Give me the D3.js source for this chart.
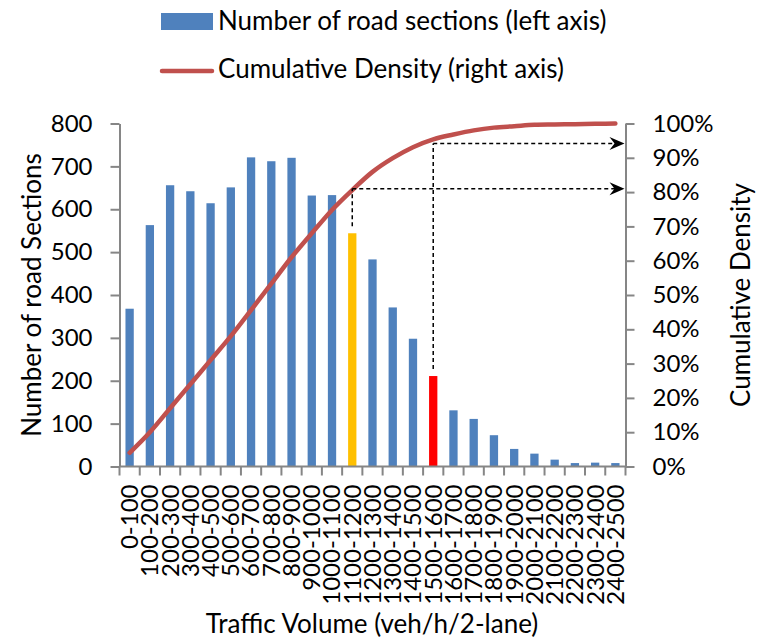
<!DOCTYPE html>
<html>
<head>
<meta charset="utf-8">
<script src="https://cdn.jsdelivr.net/npm/d3@7"></script>
<style>
  body { margin: 0; background: #fff; }
  text { font-family: Lato, "Open Sans", sans-serif; fill: #000; }
</style>
</head>
<body>
<script>
// data
var categories = ["0-100","100-200","200-300","300-400","400-500","500-600","600-700","700-800",
  "800-900","900-1000","1000-1100","1100-1200","1200-1300","1300-1400","1400-1500","1500-1600",
  "1600-1700","1700-1800","1800-1900","1900-2000","2000-2100","2100-2200","2200-2300","2300-2400","2400-2500"];
var sections = [368,563,656,642,614,651,721,712,720,632,633,544,483,371,298,211,131,111,73,41,30,16,8,9,8];
var cumulative = [0.04,0.10,0.17,0.24,0.31,0.38,0.456,0.533,0.61,0.68,0.748,0.806,0.859,0.899,0.931,0.954,
  0.968,0.98,0.988,0.992,0.996,0.997,0.998,0.999,1.0];
var barColors = {"1100-1200": "#FFC000", "1500-1600": "#FF0000"};
var markers = [{cat: "1100-1200", level: 0.81}, {cat: "1500-1600", level: 0.942}];
var leftTicks = [0,100,200,300,400,500,600,700,800];
var rightTicks = [0,0.1,0.2,0.3,0.4,0.5,0.6,0.7,0.8,0.9,1.0];

var width = 766, height = 641;
var plot = {left: 119.5, right: 625.5, top: 123.5, bottom: 466.5};
var tickFont = 24, titleFont = 26;

var svg = d3.select("body").append("svg")
    .attr("width", width)
    .attr("height", height);

var x = d3.scaleBand()
    .domain(categories)
    .range([plot.left, plot.right])
    .paddingInner(0.59)
    .paddingOuter(0.295);

var y = d3.scaleLinear().domain([0, 800]).range([plot.bottom, plot.top]);
var yR = d3.scaleLinear().domain([0, 1]).range([plot.bottom, plot.top]);

var axisColor = "#868686";

// bars
svg.append("g").selectAll("rect")
  .data(categories)
  .enter().append("rect")
    .attr("x", function(d) { return x(d); })
    .attr("width", x.bandwidth())
    .attr("y", function(d, i) { return y(sections[i]); })
    .attr("height", function(d, i) { return y(0) - y(sections[i]); })
    .attr("fill", function(d) { return barColors[d] || "#4F81BD"; });

// left axis
var gl = svg.append("g")
    .attr("transform", "translate(" + plot.left + ",0)")
    .call(d3.axisLeft(y).tickValues(leftTicks).tickSize(9).tickPadding(18).tickSizeOuter(0));
gl.select(".domain").attr("stroke", axisColor).attr("stroke-width", 2);
gl.selectAll(".tick line").attr("stroke", axisColor).attr("stroke-width", 2);
gl.selectAll("text").attr("font-size", tickFont).attr("font-family", "Lato").attr("fill", "#000");

// right axis
var gr = svg.append("g")
    .attr("transform", "translate(" + plot.right + ",0)")
    .call(d3.axisRight(yR).tickValues(rightTicks).tickFormat(d3.format(".0%")).tickSize(9).tickPadding(18).tickSizeOuter(0));
gr.select(".domain").attr("stroke", axisColor).attr("stroke-width", 2);
gr.selectAll(".tick line").attr("stroke", axisColor).attr("stroke-width", 2);
gr.selectAll("text").attr("font-size", tickFont).attr("font-family", "Lato").attr("fill", "#000");

// bottom axis: line, ticks on category boundaries, rotated labels
var gb = svg.append("g");
gb.append("line")
    .attr("x1", plot.left).attr("x2", plot.right)
    .attr("y1", y(0)).attr("y2", y(0))
    .attr("stroke", axisColor).attr("stroke-width", 2);
gb.selectAll(".bt")
  .data(d3.range(categories.length + 1))
  .enter().append("line")
    .attr("x1", function(i) { return x.range()[0] + i * x.step(); })
    .attr("x2", function(i) { return x.range()[0] + i * x.step(); })
    .attr("y1", y(0)).attr("y2", y(0) + 9)
    .attr("stroke", axisColor).attr("stroke-width", 2);
gb.selectAll(".lbl")
  .data(categories)
  .enter().append("text")
    .attr("transform", function(d) {
      return "translate(" + (x(d) + x.bandwidth() / 2) + "," + (y(0) + 18) + ") rotate(-90)";
    })
    .attr("text-anchor", "end")
    .attr("dy", "0.35em")
    .attr("font-size", tickFont)
    .text(function(d) { return d; });

// cumulative line
var line = d3.line()
    .x(function(d, i) { return x(categories[i]) + x.bandwidth() / 2; })
    .y(function(d) { return yR(d); })
    .curve(d3.curveMonotoneX);

svg.append("path")
    .datum(cumulative)
    .attr("fill", "none")
    .attr("stroke", "#C0504D")
    .attr("stroke-width", 4.5)
    .attr("stroke-linecap", "round")
    .attr("d", line);

// dashed guide lines with arrows
markers.forEach(function(m) {
  var i = categories.indexOf(m.cat);
  var cx = x(m.cat) + x.bandwidth() / 2;
  var ly = yR(m.level);
  svg.append("line")
      .attr("x1", cx).attr("x2", cx)
      .attr("y1", y(sections[i]) - 7).attr("y2", ly)
      .attr("stroke", "#000").attr("stroke-width", 1.5)
      .attr("stroke-dasharray", "4,3");
  svg.append("line")
      .attr("x1", cx).attr("x2", plot.right - 10)
      .attr("y1", ly).attr("y2", ly)
      .attr("stroke", "#000").attr("stroke-width", 1.5)
      .attr("stroke-dasharray", "4,3");
  svg.append("path")
      .attr("transform", "translate(" + (plot.right - 1) + "," + ly + ")")
      .attr("d", "M0,0L-15,-6.5L-10,0L-15,6.5Z")
      .attr("fill", "#000");
});

// axis titles
svg.append("text")
    .attr("transform", "translate(41," + ((plot.top + plot.bottom) / 2) + ") rotate(-90)")
    .attr("text-anchor", "middle")
    .attr("font-size", titleFont)
    .text("Number of road Sections");

svg.append("text")
    .attr("transform", "translate(750," + ((plot.top + plot.bottom) / 2) + ") rotate(-90)")
    .attr("text-anchor", "middle")
    .attr("font-size", titleFont)
    .text("Cumulative Density");

svg.append("text")
    .attr("x", 372).attr("y", 633)
    .attr("text-anchor", "middle")
    .attr("font-size", titleFont)
    .text("Traffic Volume (veh/h/2-lane)");

// legend
var lg = svg.append("g");
lg.append("rect")
    .attr("x", 161).attr("y", 13).attr("width", 52).attr("height", 17)
    .attr("fill", "#4F81BD");
lg.append("text")
    .attr("x", 218).attr("y", 30)
    .attr("font-size", titleFont)
    .text("Number of road sections (left axis)");
lg.append("line")
    .attr("x1", 162).attr("x2", 212).attr("y1", 71).attr("y2", 71)
    .attr("stroke", "#C0504D").attr("stroke-width", 4.5).attr("stroke-linecap", "round");
lg.append("text")
    .attr("x", 218).attr("y", 78)
    .attr("font-size", titleFont)
    .text("Cumulative Density (right axis)");
</script>
</body>
</html>
